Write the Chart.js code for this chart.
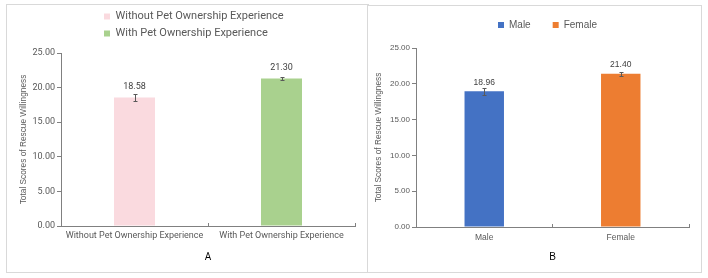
<!DOCTYPE html>
<html><head><meta charset="utf-8">
<script src="https://cdn.jsdelivr.net/npm/chart.js@4.4.0/dist/chart.umd.min.js"></script>
<style>
html,body{margin:0;padding:0;background:#fff;width:708px;height:278px;overflow:hidden}
.panel{position:absolute;border:1px solid #d9d9d9;background:#fff}
#pa{left:6px;top:4px;width:361px;height:267px}
#pb{left:367px;top:5px;width:333px;height:266px}
canvas{display:block}
</style></head><body>
<div class="panel" id="pa"><canvas id="ca" width="361" height="267"></canvas></div>
<div class="panel" id="pb"><canvas id="cb" width="333" height="266"></canvas></div>
<script>
// ---- data ----
const categoriesA = ['Without Pet Ownership Experience', 'With Pet Ownership Experience'];
const valuesA = [18.58, 21.30];
const errorsA = [0.5, 0.25];
const colorsA = ['#FADADF', '#A9D18E'];

const categoriesB = ['Male', 'Female'];
const valuesB = [18.96, 21.40];
const errorsB = [0.5, 0.3];
const colorsB = ['#4472C4', '#ED7D31'];

const yTicks = [0, 5, 10, 15, 20, 25];
const yTitle = 'Total Scores of Rescue Willingness';
const panelTitles = ['A', 'B'];

// ---- plugins ----
const errorBarPlugin = {
  id: 'errorBars',
  afterDatasetsDraw(chart, args, o) {
    const ctx = chart.ctx, y = chart.scales.y;
    const meta = chart.getDatasetMeta(0);
    const data = chart.data.datasets[0].data;
    ctx.save();
    meta.data.forEach((bar, i) => {
      const v = data[i], e = o.errors[i];
      const x = Math.round(bar.x) + 0.5;
      const yt = Math.round(y.getPixelForValue(v + e)) + 0.5;
      const yb = Math.round(y.getPixelForValue(v - e)) + 0.5;
      ctx.strokeStyle = o.color; ctx.lineWidth = 1;
      ctx.beginPath();
      ctx.moveTo(x, yt); ctx.lineTo(x, yb);
      ctx.moveTo(x - o.cap, yt); ctx.lineTo(x + o.cap, yt);
      ctx.moveTo(x - o.cap, yb); ctx.lineTo(x + o.cap, yb);
      ctx.stroke();
      ctx.fillStyle = o.labelColor; ctx.font = o.font;
      ctx.textAlign = 'center'; ctx.textBaseline = 'middle';
      ctx.fillText(v.toFixed(2), bar.x, bar.y - o.labelOffset);
    });
    ctx.restore();
  }
};
const legendPlace = {
  id: 'legendPlace',
  afterLayout(chart, args, o) {
    const l = chart.legend;
    if (!l || o.left == null) return;
    l.left = o.left; l.top = o.top; l.width = o.width; l.height = o.height;
    l.right = o.left + o.width; l.bottom = o.top + o.height;
  }
};

function legendLabels(chart) {
  const ds = chart.data.datasets[0];
  return chart.data.labels.map((t, i) => ({
    text: t, fillStyle: ds.backgroundColor[i], strokeStyle: 'rgba(0,0,0,0)',
    lineWidth: 0, hidden: false, index: i, datasetIndex: 0, fontColor: '#595959'
  }));
}

function makeChart(id, cats, vals, errs, cols, s) {
  return new Chart(document.getElementById(id), {
    type: 'bar',
    data: { labels: cats, datasets: [{ data: vals, backgroundColor: cols, borderWidth: 0,
      categoryPercentage: 1, barPercentage: s.barPct }] },
    plugins: [errorBarPlugin, legendPlace],
    options: {
      responsive: false, animation: false, devicePixelRatio: 1,
      layout: { padding: s.pad },
      plugins: {
        tooltip: { enabled: false },
        legend: {
          display: true, position: s.legendPos, align: 'start', maxHeight: s.legendMaxH,
          labels: { boxWidth: 6, boxHeight: 6, padding: s.legendPad, color: '#595959',
            font: { family: s.family, size: s.legendSize }, generateLabels: legendLabels }
        },
        legendPlace: s.legendBox,
        errorBars: { errors: errs, color: '#595959', cap: 2, labelColor: '#404040',
          font: s.labelFont, labelOffset: s.labelOffset }
      },
      scales: {
        x: {
          grid: { drawOnChartArea: false, tickLength: -3, color: s.axisColor, offset: true },
          border: { color: s.axisColor },
          ticks: { color: '#595959', font: { family: s.family, size: s.xSize }, padding: s.xPad,
            maxRotation: 0, minRotation: 0, autoSkip: false },
          title: { display: true, text: s.title, color: '#000', font: { family: s.family, size: s.titleSize },
            padding: { top: 0, bottom: s.titlePadB } },
          afterFit: sc => { sc.height = s.xH; }
        },
        y: {
          min: 0, max: 25,
          afterBuildTicks: sc => { sc.ticks = yTicks.map(v => ({ value: v })); },
          grid: { drawOnChartArea: false, tickLength: 4, color: s.axisColor },
          border: { color: s.axisColor },
          ticks: { color: '#595959', font: { family: s.family, size: s.ySize }, padding: 2,
            callback: v => Number(v).toFixed(2) },
          title: { display: true, text: yTitle, color: '#595959',
            font: { family: 'Liberation Sans', size: 8.3 }, padding: { top: s.yTitlePad, bottom: 0 } },
          afterFit: sc => { sc.width = s.yW; }
        }
      }
    }
  });
}

makeChart('ca', categoriesA, valuesA, errorsA, colorsA, {
  family: 'Roboto', barPct: 0.279, pad: { left: 0, top: 48, right: 13, bottom: 0 },
  legendPos: 'chartArea', legendMaxH: undefined, legendPad: 6, legendSize: 11,
  legendBox: { left: 91, top: 0, width: 250, height: 45 },
  labelFont: '9px Roboto', labelOffset: 11, axisColor: '#808080',
  xSize: 9, xPad: 7, title: panelTitles[0], titleSize: 10, titlePadB: 9, xH: 46,
  ySize: 9, yTitlePad: 12, yW: 54
});

makeChart('cb', categoriesB, valuesB, errorsB, colorsB, {
  family: 'Liberation Sans', barPct: 0.289, pad: { left: 0, top: 41, right: 12, bottom: 0 },
  legendPos: 'top', legendMaxH: 1, legendPad: 22, legendSize: 10,
  legendBox: { left: 108, top: -8, width: 220, height: 60 },
  labelFont: '8.5px "Liberation Sans"', labelOffset: 9, axisColor: '#808080',
  xSize: 8.5, xPad: 9, title: panelTitles[1], titleSize: 10, titlePadB: 9, xH: 45,
  ySize: 8, yTitlePad: 6, yW: 48
});
</script>
</body></html>
